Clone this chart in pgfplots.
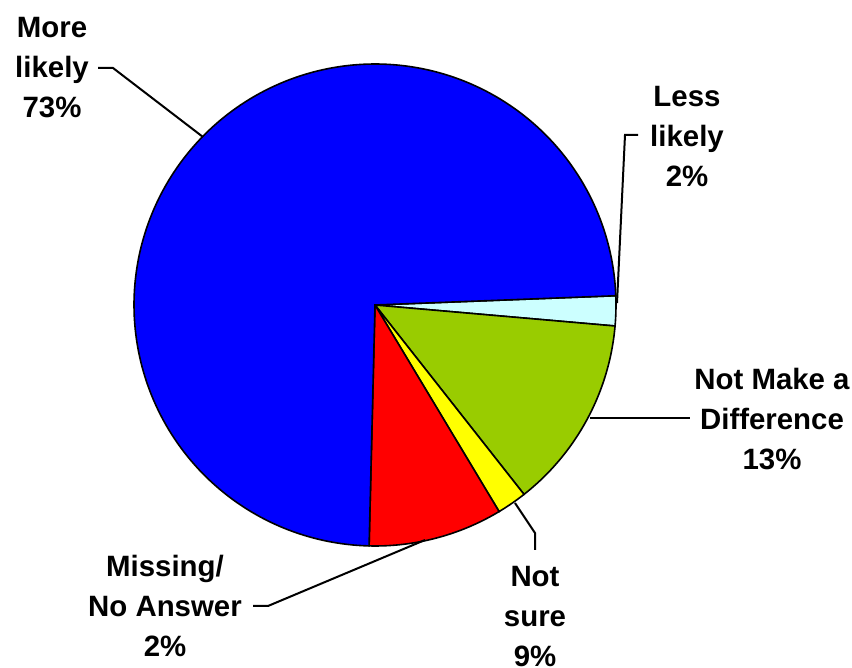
\documentclass[border=0pt]{standalone}
\usepackage{pgfplots}
\pgfplotsset{compat=1.18}
\usepgfplotslibrary{polar}
\usepackage{fontspec}
\setmainfont{Liberation Sans}
\definecolor{cBlue}{RGB}{0,0,255}
\definecolor{cCyan}{RGB}{204,255,255}
\definecolor{cGreen}{RGB}{153,204,0}
\definecolor{cYellow}{RGB}{255,255,0}
\definecolor{cRed}{RGB}{255,0,0}
\begin{document}
\begin{tikzpicture}
\useasboundingbox (0,0) rectangle (426pt,334pt);
% percentages, drawn clockwise from the start angle
\pgfmathsetmacro\sA{2.2}                 % start: Less likely
\pgfmathsetmacro\sB{\sA-2*3.6}           % Not Make a Difference
\pgfmathsetmacro\sC{\sB-13*3.6}          % yellow slice
\pgfmathsetmacro\sD{\sC-2*3.6}           % red slice
\pgfmathsetmacro\sE{\sD-9*3.6}           % More likely (73)
\pgfmathsetmacro\sF{\sA-360}
\begin{polaraxis}[at={(187.5pt,181.5pt)}, anchor=origin, scale only axis,
  width=241pt, height=241pt, hide axis, ymin=0, ymax=1, clip=false]
\addplot[fill=cCyan, draw=black, line width=0.8pt, domain=\sB:\sA, samples=20] {1} -- (axis cs:0,0) -- cycle;
\addplot[fill=cGreen, draw=black, line width=0.8pt, domain=\sC:\sB, samples=60] {1} -- (axis cs:0,0) -- cycle;
\addplot[fill=cYellow, draw=black, line width=0.8pt, domain=\sD:\sC, samples=20] {1} -- (axis cs:0,0) -- cycle;
\addplot[fill=cRed, draw=black, line width=0.8pt, domain=\sE:\sD, samples=40] {1} -- (axis cs:0,0) -- cycle;
\addplot[fill=cBlue, draw=black, line width=0.8pt, domain=\sF:\sE, samples=200] {1} -- (axis cs:0,0) -- cycle;
\end{polaraxis}
\begin{scope}[x=0.5pt, y=-0.5pt, yshift=334pt, line width=1pt]
\draw (98,68) -- (113,68) -- (203,137);
\draw (617,303) -- (625,135) -- (638,135);
\draw (590,418) -- (690,418);
\draw (515,503) -- (535,533) -- (535,550);
\draw (253,606) -- (268,606) -- (425,540);
\begin{scope}[every node/.style={align=center, inner sep=0pt, font=\fontsize{14.7}{20}\selectfont\bfseries}]
\node at (52,68) {More\\likely\\73\%};
\node at (687,137) {Less\\likely\\2\%};
\node at (772,419) {Not Make a\\Difference\\13\%};
\node at (535,617) {Not\\sure\\9\%};
\node at (165,606) {Missing/\\No Answer\\2\%};
\end{scope}
\end{scope}
\end{tikzpicture}
\end{document}
